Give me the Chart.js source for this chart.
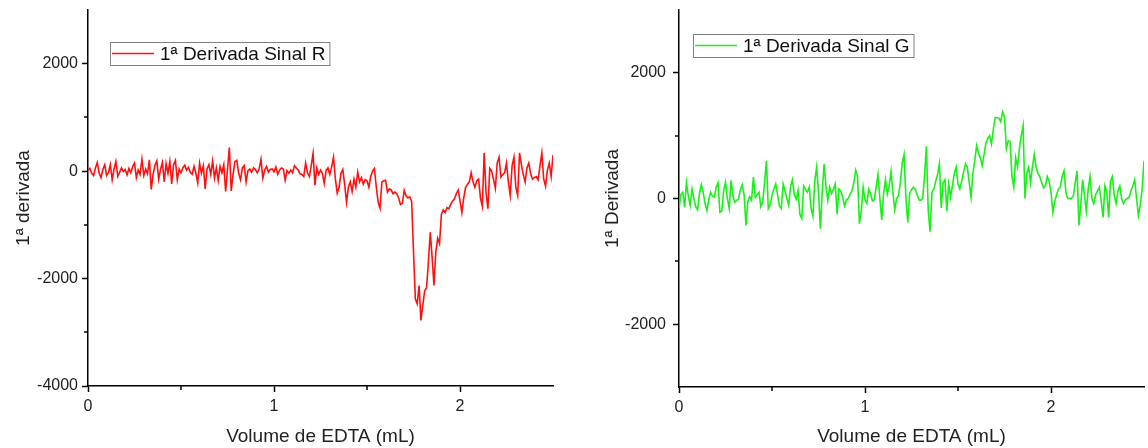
<!DOCTYPE html>
<html>
<head>
<meta charset="utf-8">
<script src="https://cdn.jsdelivr.net/npm/chart.js@4.4.1/dist/chart.umd.min.js"></script>
<style>
  html, body { margin: 0; padding: 0; background: #fff; }
  #wrap { position: relative; width: 1148px; height: 448px; }
  canvas { position: absolute; top: 0; }
  #chartR { left: 0; }
  #chartG { left: 574px; }
</style>
</head>
<body>
<div id="wrap">
  <canvas id="chartR" width="574" height="448"></canvas>
  <canvas id="chartG" width="574" height="448"></canvas>
</div>
<script>
// volume step between readings (mL)
const volumeStep = 0.01;

// 1st derivative of the R signal, one value per 0.01 mL
const derivR = [
  20, 50, -40, -80, 60, 160, -40, -120, 30, 120,
  -80, -30, 120, -160, 40, 180, -100, -20, 60, -10,
  30, -70, 50, -30, 80, 150, -120, 20, -60, 220,
  -80, 40, -50, 210, -340, -60, 110, 190, -150, 30,
  160, -200, 140, -40, 180, -240, 120, 200, -160, 40,
  -30, 60, 110, 20, 70, -20, -60, 90, -40, -220,
  150, -40, 100, -330, 40, 120, -60, 190, -130, 60,
  -170, 90, -30, 120, -380, 30, 440, -370, -60, 180,
  200, -40, -160, 60, 100, -200, 10, 40, -20, 60,
  30, -30, 40, 220, -130, 20, 90, -20, 30, 40,
  -10, 80, -60, 20, 60, 40, -170, 10, -40, 20,
  -30, 100, 60, 20, -50, -60, -100, 150, -30, -100,
  100, 330, -260, 60, -60, 20, -40, -230, 10, 60,
  -60, 80, 260, -150, -410, -300, -40, 30, -250, -580,
  -300, -200, -380, -150, -300, -20, -200, -120, -240, -160,
  -180, -300, -100, 0, 50, -300, -580, -690, -200, -180,
  -170, -390, -330, -350, -420,
  -390, -420, -500, -620, -600, -360, -460, -500, -480, -560, -1500, -2380,
  -2470, -2130, -2780, -2500, -2230, -2170, -1700, -1140, -1600, -2130, -1500, -1250, -1350,
  -800, -720, -770, -680, -700, -620, -560, -520, -420, -350,
  -550, -770, -500, -300, -250, -200, -30, -200, -300, -180,
  -150, -500, -650, 340, -400, -700, 50, 0, -150, -320,
  150, 260, -110, -60, -30, 150, -200, -450, 100, 260,
  -300, -450, 340, 120, -60, -200, 60, 150, -50, -150,
  -120, -100, -160, 100, 340, -150, -280, 20, 150, -100, 300
];

// 1st derivative of the G signal, one value per 0.01 mL
const derivG = [
  -160, 60, 100, -140, 250, 40, -110, 150, 0, -130,
  -180, 80, 220, 100, -80, -190, -20, 100, 40, 20,
  180, 250, -220, -200, 120, 260, 0, -160, 290, 40,
  -60, -30, -10, 140, 220, 60, -430, -50, 30, -30,
  340, 20, 60, 100, -130, -60, 250, 600, -160, -100,
  50, 150, 230, 60, -120, -160, 230, 120, 0, -110,
  200, 300, 60, -10, 130, -250, -320, 200, 150, 100,
  180, -150, -280, 280, 500, 100, -480, 100, 550, 200,
  -30, 180, 80, 140, 230, -250, 150, 120, 20, -120,
  -20, 0, 70, 120, 250, 450, 350, -400, -200, 180,
  -20, -80, 150, 80, -40, -20, 180, 380, 0, -340,
  80, 300, 70, 200, 430, 100, -180, 0, 50, 250,
  560, 700, 0, -380, 80, 140, 180, 150, 60, -20,
  -30, 0, 350, 830, -200, -530, 100, 150, 270, 380,
  550, -150, 250, 300, -200, 230, 20, 200, 400, 500,
  230, 150, 280, 420, 550, 500, 260, 20, 400, 600,
  840, 720, 650, 520, 700, 880, 960, 1000, 870, 1100,
  1290, 1290, 1280, 1220, 1380, 1300, 790, 920, 900, 350,
  180, 650, 500, 800, 1000, 1160, 0, 400, 500, 250,
  500, 700, 500, 400, 350, 250, 170, 200, 350, 280,
  100, -220, -50, 60, 150, 180, 350, 440, 100, 0,
  0, 0, 40, 250, 440, -430, -100, 300, 50, -200,
  150, 350, 0, -80, 60, 120, 180, -50, -300, 200,
  100, -300, 280, 350, 50, -80, 120, 200, -10, -80,
  -20, 0, 20, 120, 200, 300, 0, -270, -100, 150, 600
];

const xTickLabels = [0, 1, 2];
const xMinorTicks = [0.5, 1.5];

const FONT = '"Liberation Sans", Arial, sans-serif';

function toPoints(values) {
  return values.map((v, i) => ({ x: +(i * volumeStep).toFixed(2), y: v }));
}

// short minor ticks between labelled ones
const minorTicks = {
  id: 'minorTicks',
  afterDraw(chart, args, o) {
    const { ctx, chartArea, scales } = chart;
    ctx.save();
    ctx.strokeStyle = '#000';
    ctx.lineWidth = 1.5;
    o.y.forEach(v => {
      const py = Math.round(scales.y.getPixelForValue(v));
      ctx.beginPath();
      ctx.moveTo(chartArea.left - 4, py);
      ctx.lineTo(chartArea.left, py);
      ctx.stroke();
    });
    o.x.forEach(v => {
      const px = Math.round(scales.x.getPixelForValue(v));
      ctx.beginPath();
      ctx.moveTo(px, chartArea.bottom);
      ctx.lineTo(px, chartArea.bottom + 4);
      ctx.stroke();
    });
    ctx.restore();
  }
};

// Origin-style boxed legend inside the plot
const boxLegend = {
  id: 'boxLegend',
  afterDraw(chart, args, o) {
    const { ctx, chartArea } = chart;
    const ds = chart.data.datasets[0];
    const x = Math.round(chartArea.left + o.dx), y = Math.round(chartArea.top + o.dy);
    ctx.save();
    ctx.font = '19px ' + FONT;
    const w = 50 + ctx.measureText(ds.label).width + 4;
    const h = 23;
    ctx.fillStyle = '#fff';
    ctx.fillRect(x, y, w, h);
    ctx.strokeStyle = '#808080';
    ctx.lineWidth = 1;
    ctx.strokeRect(x + 0.5, y + 0.5, w, h);
    ctx.strokeStyle = ds.borderColor;
    ctx.lineWidth = 1.5;
    ctx.beginPath();
    ctx.moveTo(x + 2, y + 11.5);
    ctx.lineTo(x + 44, y + 11.5);
    ctx.stroke();
    ctx.fillStyle = '#111';
    ctx.textBaseline = 'middle';
    ctx.fillText(ds.label, x + 50, y + 12.5);
    ctx.restore();
  }
};

function makeChart(id, cfg) {
  return new Chart(document.getElementById(id), {
    type: 'line',
    data: {
      datasets: [{
        label: cfg.label,
        data: toPoints(cfg.values),
        borderColor: cfg.color,
        borderWidth: 1.6,
        pointRadius: 0,
        tension: 0,
        fill: false
      }]
    },
    options: {
      responsive: false,
      animation: false,
      layout: { padding: { top: 10, right: cfg.padRight, left: 0, bottom: 0 } },
      plugins: {
        legend: { display: false },
        tooltip: { enabled: false },
        minorTicks: { y: cfg.yMinor, x: xMinorTicks },
        boxLegend: { dx: cfg.legendDx, dy: cfg.legendDy }
      },
      scales: {
        x: {
          type: 'linear',
          min: 0,
          max: 2.5,
          afterFit: s => { s.height = cfg.xHeight; s.paddingLeft = 0; s.paddingRight = 0; },
          border: { color: '#000', width: 1.5 },
          grid: {
            drawOnChartArea: false,
            drawTicks: true,
            tickLength: 6,
            tickWidth: 1.5,
            tickColor: c => (c.tick && xTickLabels.includes(c.tick.value)) ? '#000' : 'rgba(0,0,0,0)'
          },
          ticks: {
            stepSize: 0.5,
            padding: 5,
            color: '#222',
            font: { family: FONT, size: 16 },
            maxRotation: 0,
            autoSkip: false,
            callback: v => xTickLabels.includes(v) ? String(v) : ''
          },
          title: {
            display: true,
            text: 'Volume de EDTA (mL)',
            color: '#222',
            font: { family: FONT, size: 19 },
            padding: { top: 2, bottom: 0 }
          }
        },
        y: {
          min: cfg.yMin,
          max: cfg.yMax,
          afterFit: s => { s.width = cfg.yWidth; s.paddingTop = 0; s.paddingBottom = 0; },
          border: { color: '#000', width: 1.5 },
          grid: {
            drawOnChartArea: false,
            drawTicks: true,
            tickLength: 6,
            tickWidth: 1.5,
            tickColor: c => (c.tick && c.tick.value % 2000 === 0) ? '#000' : 'rgba(0,0,0,0)'
          },
          ticks: {
            stepSize: 1000,
            padding: cfg.yTickPad,
            color: '#222',
            font: { family: FONT, size: 16 },
            autoSkip: false,
            callback: v => (v % 2000 === 0) ? String(v) : ''
          },
          title: {
            display: true,
            text: cfg.yTitle,
            color: '#222',
            font: { family: FONT, size: 19 },
            padding: { top: cfg.yTitlePad, bottom: 0 }
          }
        }
      }
    },
    plugins: [minorTicks, boxLegend]
  });
}

makeChart('chartR', {
  label: '1ª Derivada Sinal R',
  values: derivR,
  color: '#ff1010',
  yMin: -4000, yMax: 3000,
  yMinor: [-3000, -1000, 1000],
  yTitle: '1ª derivada',
  yWidth: 88, xHeight: 62, padRight: 21,
  yTickPad: 4, yTitlePad: 12,
  legendDx: 22, legendDy: 32
});

makeChart('chartG', {
  label: '1ª Derivada Sinal G',
  values: derivG,
  color: '#18f018',
  yMin: -3000, yMax: 3000,
  yMinor: [-1000, 1000],
  yTitle: '1ª Derivada',
  yWidth: 105, xHeight: 61, padRight: 4,
  yTickPad: 7, yTitlePad: 27,
  legendDx: 14, legendDy: 24
});
</script>
</body>
</html>
